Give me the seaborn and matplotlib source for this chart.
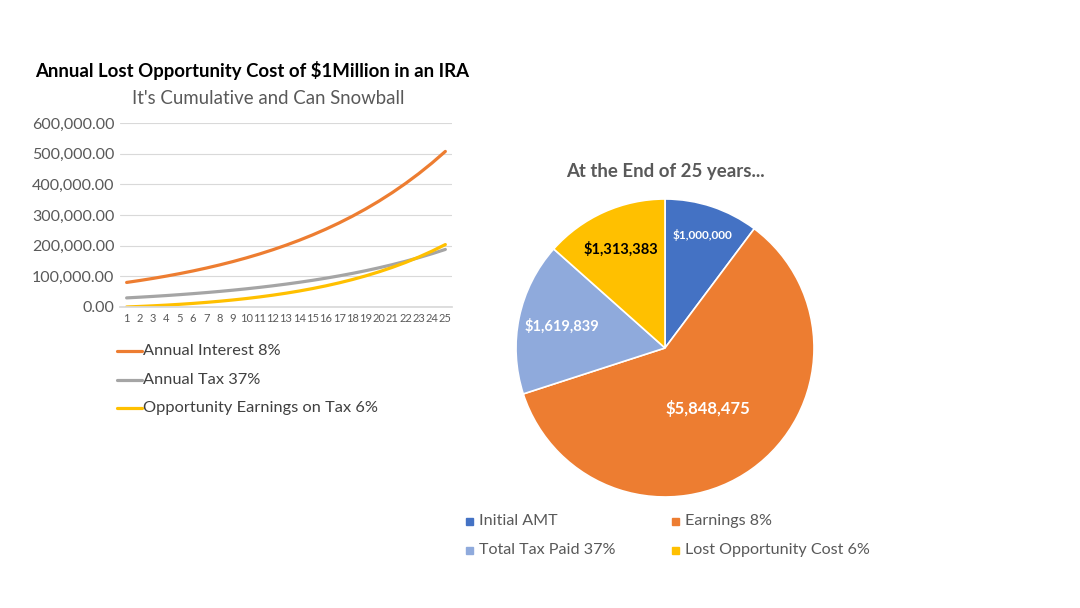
import numpy as np
import pandas as pd
import matplotlib
matplotlib.use("Agg")
import matplotlib.pyplot as plt
import seaborn as sns

years = list(range(1, 26))
annual_interest = [80000, 86400, 93312, 100777, 108839, 117546, 126950, 137106, 148075, 159921,
                   172715, 186532, 201454, 217571, 234976, 253775, 274077, 296003, 319683, 345258,
                   372878, 402708, 434925, 469719, 507296]
annual_tax = [29600, 31968, 34525, 37287, 40270, 43492, 46971, 50729, 54787, 59170,
              63904, 69016, 74537, 80500, 86940, 93895, 101407, 109520, 118281, 127744,
              137963, 149000, 160920, 173794, 187697]
opportunity = [0, 1776, 3801, 6100, 8703, 11642, 14950, 18665, 22829, 27486,
               32685, 38480, 44930, 52098, 60054, 68874, 78640, 89443, 101380, 114560,
               129098, 145122, 162769, 182191, 203550]
series_names = ["Annual Interest 8%", "Annual Tax 37%", "Opportunity Earnings on Tax 6%"]
y_ticks = [0, 100000, 200000, 300000, 400000, 500000, 600000]

pie_labels = ["Initial AMT", "Earnings 8%", "Total Tax Paid 37%", "Lost Opportunity Cost 6%"]
pie_values = [1000000, 5848475, 1619839, 1313383]

sns.set_theme(style="white")
plt.rcParams["font.family"] = ["Lato", "DejaVu Sans"]

line_colors = ["#ED7D31", "#A5A5A5", "#FFC000"]
pie_colors = ["#4472C4", "#ED7D31", "#8FAADC", "#FFC000"]
txt_gray = "#595959"

fig = plt.figure(figsize=(10.8, 6.08), dpi=100)
fig.patch.set_facecolor("white")

# ---- line chart ----
ax = fig.add_axes([0.1111, 0.4951, 0.3074, 0.3026])
df = pd.DataFrame({
    "Year": years * 3,
    "Value": annual_interest + annual_tax + opportunity,
    "Series": [series_names[0]] * 25 + [series_names[1]] * 25 + [series_names[2]] * 25,
})
sns.lineplot(data=df, x="Year", y="Value", hue="Series", palette=line_colors,
             hue_order=series_names, linewidth=2.3, ax=ax, legend=False)
ax.set_xlim(0.5, 25.5)
ax.set_ylim(0, 600000)
ax.set_yticks(y_ticks)
ax.set_yticklabels([f"{v:,.2f}" for v in y_ticks], color=txt_gray, fontsize=11.5)
ax.set_xticks(years)
ax.set_xticklabels([str(y) for y in years], color=txt_gray, fontsize=8)
ax.grid(axis="y", color="#D9D9D9", linewidth=0.8)
ax.set_axisbelow(True)
for s in ["top", "right", "left"]:
    ax.spines[s].set_visible(False)
ax.spines["bottom"].set_color("#D9D9D9")
ax.tick_params(axis="both", length=0, pad=4)
ax.set_xlabel("")
ax.set_ylabel("")

fig.text(35 / 1080, 1 - 70 / 608, "Annual Lost Opportunity Cost of $1Million in an IRA",
         fontsize=13.4, fontweight="bold", color="black", ha="left", va="center")
fig.text(268 / 1080, 1 - 98 / 608, "It's Cumulative and Can Snowball",
         fontsize=13.4, color=txt_gray, ha="center", va="center")

# line legend
for i, name in enumerate(series_names):
    yy = 1 - (351 + i * 28.5) / 608
    fig.add_artist(plt.Line2D([117 / 1080, 142 / 1080], [yy, yy], color=line_colors[i],
                              linewidth=2.3, transform=fig.transFigure))
    fig.text(143 / 1080, yy, name, fontsize=11.8, color="#404040", ha="left", va="center")

# ---- pie chart ----
pax = fig.add_axes([0.4778, 0.1826, 0.2759, 0.4901])
wedges, _ = pax.pie(pie_values, colors=pie_colors, startangle=90, counterclock=False,
                    wedgeprops=dict(edgecolor="white", linewidth=1.2))
pax.set_xlim(-1, 1)
pax.set_ylim(-1, 1)
pax.set_aspect("equal")
pax.axis("off")

label_r = [0.8, 0.5, 0.71, 0.73]
label_c = ["white", "white", "white", "black"]
label_fs = [8.6, 12, 10.5, 10.5]
for w, v, r, c, fs in zip(wedges, pie_values, label_r, label_c, label_fs):
    ang = np.deg2rad((w.theta1 + w.theta2) / 2)
    pax.text(r * np.cos(ang), r * np.sin(ang), f"${v:,.0f}", color=c, fontsize=fs,
             fontweight="bold", ha="center", va="center")

fig.text(665 / 1080, 1 - 172 / 608, "At the End of 25 years...", fontsize=13.4,
         fontweight="bold", color=txt_gray, ha="center", va="center")

leg_pos = [(470, 521), (676, 521), (470, 550), (676, 550)]
for (lx, ly), name, col in zip(leg_pos, pie_labels, pie_colors):
    fig.add_artist(plt.Rectangle((lx / 1080 - 3.5 / 1080, 1 - ly / 608 - 3.5 / 608),
                                 7 / 1080, 7 / 608, color=col, transform=fig.transFigure))
    fig.text((lx + 9) / 1080, 1 - ly / 608, name, fontsize=11.6, color=txt_gray,
             ha="left", va="center")

fig.savefig("out.png", dpi=100, facecolor="white")
